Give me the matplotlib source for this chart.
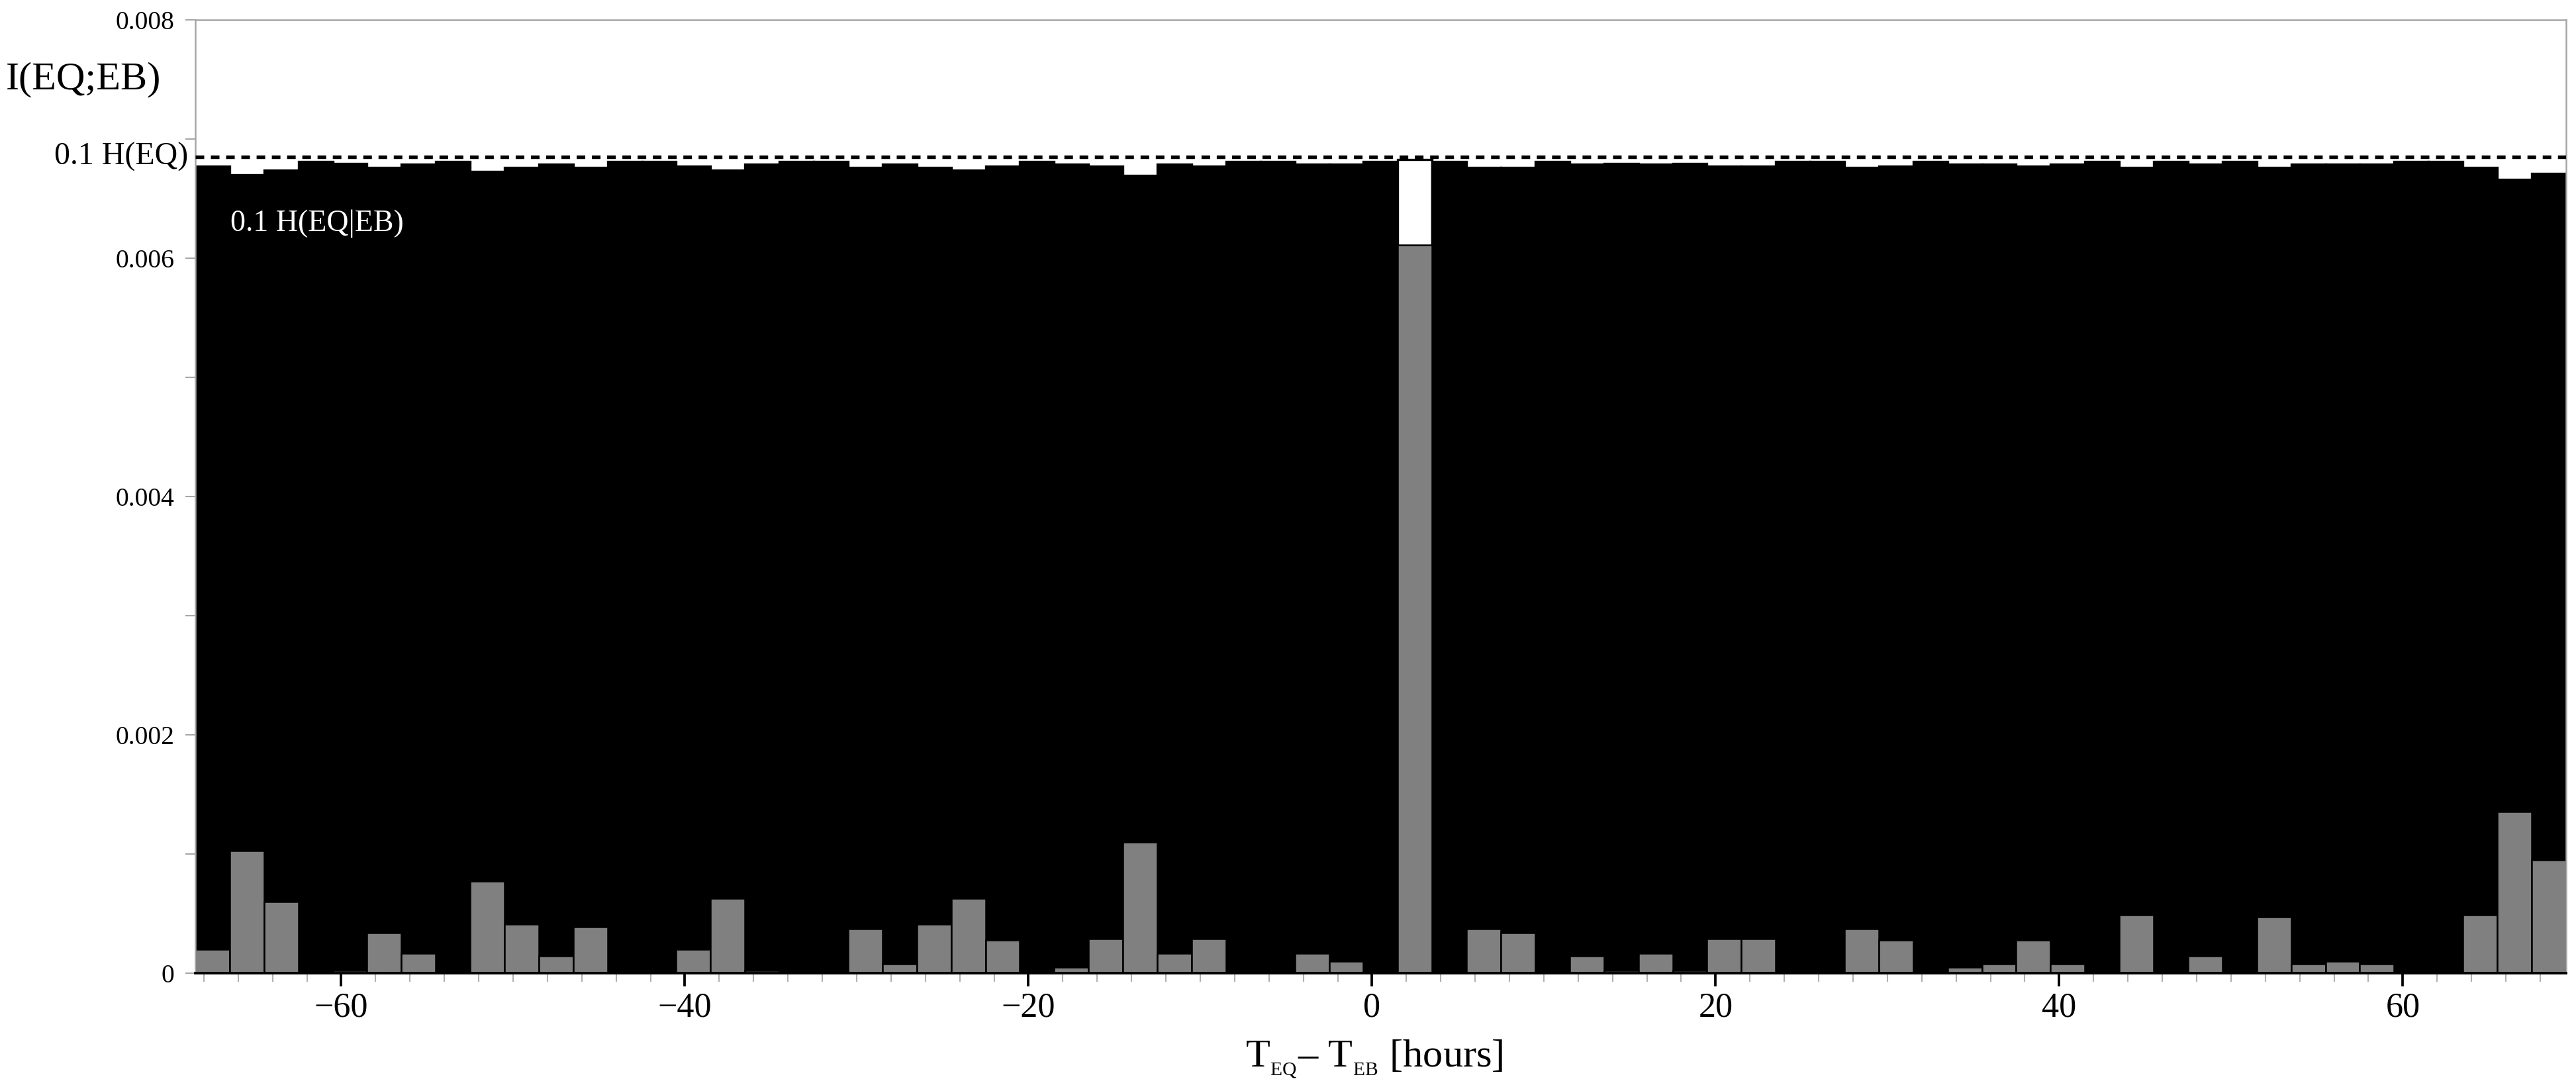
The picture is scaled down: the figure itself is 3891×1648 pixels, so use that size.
import numpy as np
import matplotlib.pyplot as plt
from matplotlib.ticker import MultipleLocator, FuncFormatter

plt.rcParams['font.family'] = ['Liberation Serif', 'DejaVu Serif']
plt.rcParams['mathtext.fontset'] = 'custom'
plt.rcParams['mathtext.rm'] = 'Liberation Serif'
plt.rcParams['mathtext.it'] = 'Liberation Serif:italic'

# time lag bins (2 hour wide), centres in hours
lag_centres = np.arange(-67.5, 69.0, 2.0)

# 0.1 H(EQ|EB) per bin (black bars)
h_cond = [0.006774, 0.006698, 0.006741, 0.006809, 0.006796, 0.006759, 0.006791, 0.006809,
          0.006728, 0.006759, 0.006791, 0.006759, 0.006809, 0.006809, 0.006774, 0.006741,
          0.006791, 0.006809, 0.006809, 0.006759, 0.006791, 0.006759, 0.006741, 0.006774,
          0.006809, 0.006791, 0.006774, 0.006694, 0.006791, 0.006774, 0.006809, 0.006809,
          0.006791, 0.006791, 0.006809, 0.006829, 0.006809, 0.006759, 0.006759, 0.006809,
          0.006791, 0.006796, 0.006791, 0.006796, 0.006774, 0.006774, 0.006809, 0.006809,
          0.006759, 0.006774, 0.006809, 0.006791, 0.006791, 0.006774, 0.006791, 0.006809,
          0.006759, 0.006809, 0.006791, 0.006809, 0.006759, 0.006791, 0.006791, 0.006791,
          0.006809, 0.006809, 0.006759, 0.006663, 0.006709]

# mutual information I(EQ;EB) per bin (grey bars)
mutual_info = [0.00020, 0.00103, 0.00060, 0.0, 0.00002, 0.00034, 0.000165, 0.0,
               0.00077, 0.00041, 0.000145, 0.00039, 0.0, 0.0, 0.00020, 0.00063,
               0.00002, 0.0, 0.0, 0.00037, 0.00008, 0.00041, 0.00063, 0.00028,
               0.0, 0.00005, 0.00029, 0.00110, 0.000165, 0.00029, 0.0, 0.0,
               0.000165, 0.00010, 0.0, 0.00611, 0.0, 0.00037, 0.00034, 0.0,
               0.000145, 0.00002, 0.000165, 0.00002, 0.00029, 0.00029, 0.0, 0.0,
               0.00037, 0.00028, 0.0, 0.00005, 0.00008, 0.00028, 0.00008, 0.0,
               0.00049, 0.0, 0.000145, 0.0, 0.00047, 0.00008, 0.00010, 0.00008,
               0.0, 0.0, 0.00049, 0.001356, 0.00095]

h_eq = 0.00685  # 0.1 H(EQ)
peak_lag = 2.5

fig = plt.figure(figsize=(3891 / 300, 1648 / 300), dpi=300)
ax = fig.add_axes([0.0758, 0.1080, 0.9203, 0.8738])

black_faces = ['white' if c == peak_lag else 'black' for c in lag_centres]
ax.bar(lag_centres, h_cond, width=2.0, color=black_faces, edgecolor='black', linewidth=0.8, zorder=1)
ax.bar(lag_centres, mutual_info, width=2.0, color='#808080', edgecolor='black', linewidth=0.6, zorder=2)
ax.axhline(h_eq, color='black', linewidth=1.3, linestyle=(0, (2.4, 1.85)), zorder=3)

ax.set_xlim(-68.5, 69.5)
ax.set_ylim(0, 0.008)

# axes styling
for side in ['top', 'left', 'right']:
    ax.spines[side].set_color('#a6a6a6')
    ax.spines[side].set_linewidth(0.6)
ax.spines['bottom'].set_color('black')
ax.spines['bottom'].set_linewidth(0.9)

ax.xaxis.set_major_locator(MultipleLocator(20))
ax.xaxis.set_minor_locator(MultipleLocator(2))
ax.yaxis.set_major_locator(MultipleLocator(0.002))
ax.yaxis.set_minor_locator(MultipleLocator(0.001))
ax.yaxis.set_major_formatter(FuncFormatter(lambda v, p: f"{v:g}"))

ax.tick_params(axis='x', which='major', direction='out', length=4.8, width=0.9, color='black',
               labelsize=12.5, pad=2)
ax.tick_params(axis='x', which='minor', direction='out', length=3.1, width=0.5, color='#b0b0b0')
ax.tick_params(axis='y', which='both', direction='out', length=3.6, width=0.5, color='#a6a6a6',
               labelsize=9.5, pad=4)

ax.set_xlabel(r'T$_{_{\mathrm{EQ}}}$– T$_{_{\mathrm{EB}}}$ [hours]', fontsize=14.5)
ax.xaxis.set_label_coords(0.4974, -0.068)

# annotations
ax.text(-0.003, h_eq, '0.1 H(EQ)', transform=ax.get_yaxis_transform(), ha='right', va='center',
        fontsize=11.5)
ax.text(-66.45, 0.00629, '0.1 H(EQ|EB)', color='white', ha='left', va='center', fontsize=11)
fig.text(9 / 3891, 1 - 120 / 1648, 'I(EQ;EB)', ha='left', va='center', fontsize=14.5)

plt.savefig('out.png', dpi=300)
